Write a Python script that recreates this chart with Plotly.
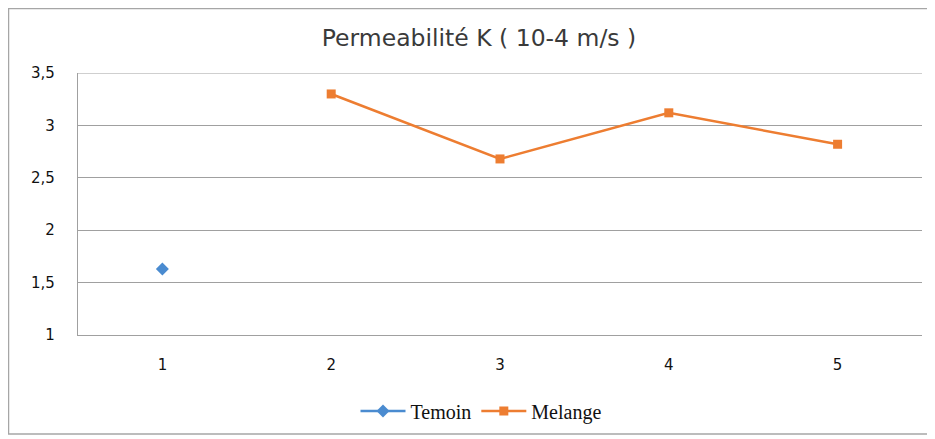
import plotly.graph_objects as go

categories = [1, 2, 3, 4, 5]
temoin = [1.63, None, None, None, None]
melange = [None, 3.30, 2.68, 3.12, 2.82]
y_ticks = [1, 1.5, 2, 2.5, 3, 3.5]
y_tick_labels = ["1", "1,5", "2", "2,5", "3", "3,5"]

# page body has an 8px margin; compensate so the screenshot lines up
OFF = 8
W, H = 935 - OFF, 439 - OFF
L, T = 78 - OFF, 73 - OFF
R = W - (922 - OFF)
B = H - (335 - OFF)
pw, ph = W - L - R, H - T - B

fig = go.Figure()
fig.add_trace(go.Scatter(
    x=categories, y=temoin, name="Temoin", mode="lines+markers",
    line=dict(color="#4a8bd0", width=2.5),
    marker=dict(symbol="diamond", size=10, color="#4a8bd0"),
))
fig.add_trace(go.Scatter(
    x=categories, y=melange, name="Melange", mode="lines+markers",
    line=dict(color="#ed7d31", width=2.5),
    marker=dict(symbol="square", size=9, color="#ed7d31"),
))

def px_x(p):
    return (p - OFF - L) / pw

def px_y(p):
    return (H - B - (p - OFF)) / ph

fig.add_shape(type="rect", xref="paper", yref="paper",
              x0=px_x(8.5), x1=px_x(934), y0=px_y(434), y1=px_y(8.5),
              line=dict(color="#a6a6a6", width=1.5), layer="below")

tick_font = dict(family="DejaVu Sans, sans-serif", size=15, color="#111111")

fig.update_layout(
    width=W, height=H,
    margin=dict(l=L, r=R, t=T, b=B, autoexpand=False),
    paper_bgcolor="white", plot_bgcolor="white",
    font=dict(family="DejaVu Sans, sans-serif", size=15, color="#111111"),
    title=dict(text="Permeabilité K ( 10-4 m/s )", x=(479 - OFF) / W, xanchor="center",
               y=1 - (38 - OFF) / H, yanchor="middle",
               font=dict(family="DejaVu Sans, sans-serif", size=23.5, color="#3a3a3a")),
    showlegend=True,
    legend=dict(orientation="h", x=px_x(481), xanchor="center", y=px_y(411), yanchor="middle",
                font=dict(family="Liberation Serif, serif", size=20, color="#111111"),
                itemwidth=45),
)
fig.update_xaxes(
    range=[0.5, 5.5], tickvals=categories, ticktext=[str(c) for c in categories],
    tickfont=tick_font,
    showgrid=False, showline=True, linecolor="#a0a0a0", linewidth=1.2,
    ticks="", ticklabelstandoff=16, zeroline=False, fixedrange=True,
)
fig.update_yaxes(
    range=[1, 3.5], tickvals=y_ticks, ticktext=y_tick_labels,
    tickfont=tick_font,
    showgrid=True, gridcolor="#a0a0a0", gridwidth=1.2,
    showline=True, linecolor="#a0a0a0", linewidth=1.2,
    ticks="", ticklabelstandoff=19, zeroline=False, fixedrange=True,
)
fig.add_shape(type="line", xref="paper", yref="y", x0=0, x1=1, y0=3.5, y1=3.5,
              line=dict(color="#a0a0a0", width=1.2))

fig.write_html("out.html")
